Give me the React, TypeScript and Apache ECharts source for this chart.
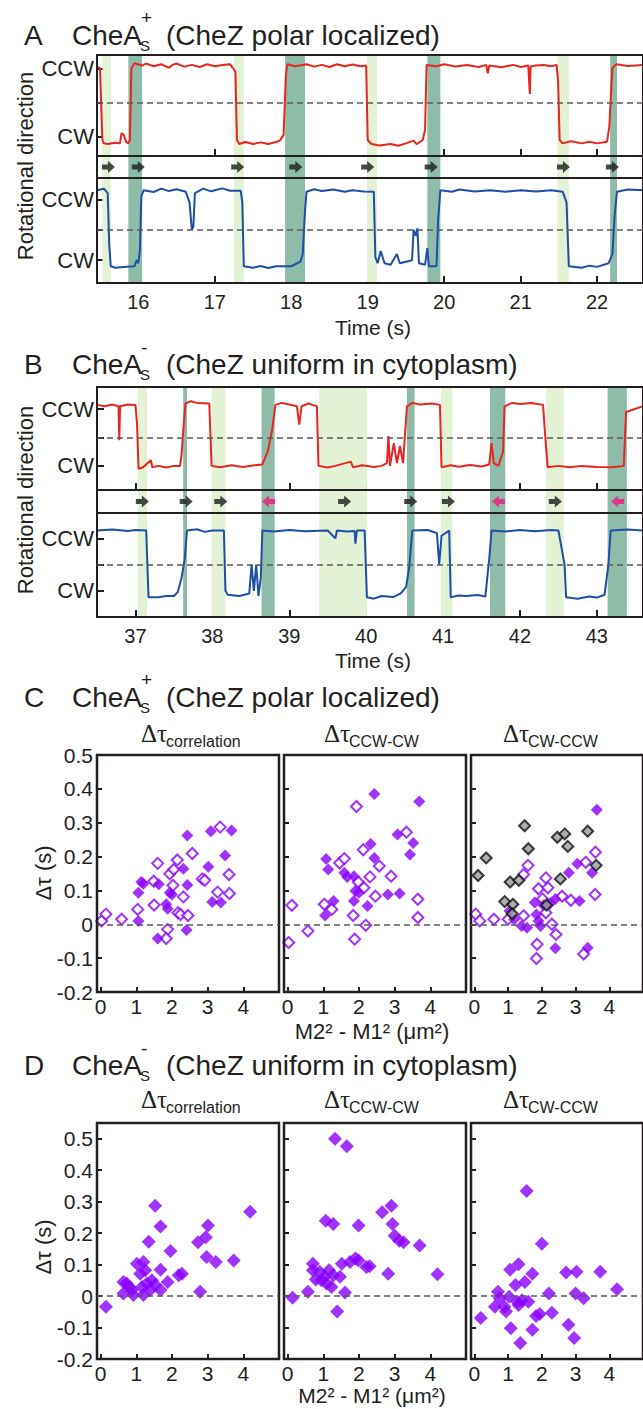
import React, { useEffect, useRef } from "react";
import * as echarts from "echarts";

const FONT = "'Liberation Sans', Arial, Helvetica, sans-serif";
const SERIF = "'Liberation Serif', 'Times New Roman', serif";
const INK = "#231f20";
const RED = "#e8251e";
const BLUE = "#1f4ea6";
const PURPLE = "#8a00ff";
const LIGHT = "#e3f1d5";
const DARK = "#8fbca8";
const MAGENTA = "#f0167f";

// ---------- Panel A (CheA_S+) ----------
const timeTicksA = [16, 17, 18, 19, 20, 21, 22];
const redTraceA = [
  [15.46, 1.05], [15.5, 1.0], [15.53, -1.1], [15.55, -1.2], [15.6, -1.22], [15.7, -1.18], [15.76, -1.2],
  [15.78, -0.9], [15.81, -0.95], [15.84, -1.15], [15.87, -1.2], [15.89, -1.1], [15.91, 1.0], [15.95, 1.15],
  [16.05, 1.08], [16.1, 1.14], [16.2, 1.06], [16.3, 1.12], [16.4, 1.02], [16.45, 1.1], [16.5, 1.14], [16.6, 1.05],
  [16.7, 1.1], [16.8, 1.04], [16.9, 1.12], [17.0, 1.06], [17.1, 1.1], [17.2, 1.12],
  [17.24, 1.0], [17.27, 0.9], [17.29, -1.1], [17.32, -1.22], [17.4, -1.16], [17.5, -1.22], [17.6, -1.17],
  [17.7, -1.22], [17.8, -1.16], [17.85, -1.12],
  [17.9, -0.95], [17.93, 0.8], [17.95, 1.12], [18.05, 1.06], [18.2, 1.12], [18.3, 1.05], [18.4, 1.1], [18.5, 1.04],
  [18.6, 1.12], [18.7, 1.06], [18.8, 1.11], [18.9, 1.06], [18.98, 1.08],
  [19.0, -1.1], [19.05, -1.22], [19.15, -1.26], [19.3, -1.22], [19.4, -1.27], [19.5, -1.2], [19.6, -1.12],
  [19.64, -1.22], [19.72, -1.1],
  [19.75, -0.8], [19.77, 1.1], [19.9, 1.06], [20.0, 1.12], [20.15, 1.05], [20.3, 1.1], [20.45, 1.04], [20.55, 1.1],
  [20.57, 0.85], [20.59, 1.08], [20.75, 1.03], [20.9, 1.1], [21.0, 1.04],
  [21.1, 1.08], [21.12, 0.25], [21.13, 1.05], [21.2, 1.08], [21.3, 1.1], [21.4, 1.06], [21.47, 1.1], [21.49, 0.6],
  [21.51, -1.1], [21.55, -1.2], [21.65, -1.14], [21.8, -1.2], [21.9, -1.15], [22.0, -1.2], [22.13, -1.15],
  [22.16, -0.7], [22.18, 0.2], [22.2, 1.0], [22.25, 1.12], [22.4, 1.07], [22.6, 1.1],
];
const blueTraceA = [
  [15.46, 1.3], [15.55, 1.35], [15.6, 1.2], [15.62, -0.5], [15.64, -1.2], [15.7, -1.25], [15.85, -1.22],
  [15.95, -1.2], [15.98, -1.0], [16.0, -1.1], [16.02, -0.7], [16.04, 1.1], [16.07, 1.3], [16.2, 1.24],
  [16.3, 1.35], [16.4, 1.27], [16.5, 1.33], [16.62, 1.25], [16.67, 0.9], [16.7, 0.0], [16.72, 0.1], [16.74, 1.2],
  [16.85, 1.35], [16.95, 1.26], [17.0, 1.3], [17.1, 1.36], [17.2, 1.28], [17.34, 1.28], [17.36, 0.9],
  [17.38, -1.2], [17.5, -1.25], [17.6, -1.19], [17.7, -1.26], [17.8, -1.2], [18.0, -1.2], [18.12, -1.05],
  [18.15, -0.8], [18.18, 0.6], [18.2, 1.25], [18.3, 1.33], [18.4, 1.27], [18.55, 1.32], [18.7, 1.25], [18.8, 1.3],
  [18.95, 1.26], [19.08, 1.25], [19.1, -0.9], [19.13, -1.1],
  [19.17, -0.7], [19.22, -1.1], [19.3, -1.15], [19.38, -0.8], [19.42, -1.1], [19.5, -1.05], [19.58, -1.0],
  [19.6, 0.0], [19.63, -0.2], [19.65, 0.05], [19.67, -1.1], [19.75, -1.15], [19.78, -0.6], [19.8, -1.2],
  [19.9, -1.2], [19.92, 0.3], [19.95, 1.3], [20.1, 1.25], [20.2, 1.32], [20.4, 1.26], [20.6, 1.3], [20.8, 1.25],
  [21.0, 1.3], [21.2, 1.26], [21.4, 1.3], [21.55, 1.25],
  [21.6, 0.9], [21.63, -1.2], [21.8, -1.25], [21.9, -1.18], [22.0, -1.22], [22.15, -1.1], [22.2, -0.8],
  [22.23, 0.5], [22.26, 1.25], [22.4, 1.32], [22.6, 1.3],
];
const lightBandsA = [[15.53, 15.64], [17.25, 17.38], [18.99, 19.12], [21.48, 21.63]];
const darkBandsA = [[15.87, 16.05], [17.92, 18.18], [19.78, 19.95], [22.17, 22.26]];
const arrowsRightA = [15.61, 16.0, 17.3, 18.06, 19.0, 19.83, 21.56, 22.2];
const arrowsLeftA: number[] = [];

// ---------- Panel B (CheA_S-) ----------
const timeTicksB = [37, 38, 39, 40, 41, 42, 43];
const redTraceB = [
  [36.5, 1.15], [36.6, 1.1], [36.7, 1.16], [36.78, 1.1], [36.79, -0.1], [36.8, 1.1], [36.9, 1.16], [37.0, 1.15],
  [37.02, 0.5], [37.04, -1.1], [37.1, -1.05], [37.2, -0.8], [37.22, -1.05], [37.3, -1.0], [37.4, -1.06],
  [37.5, -1.0], [37.58, -1.0], [37.6, -0.6], [37.62, 0.2],
  [37.65, 1.2], [37.72, 1.28], [37.8, 1.22], [37.96, 1.2], [37.99, -1.0], [38.1, -1.05], [38.25, -0.98],
  [38.4, -1.04], [38.55, -0.98], [38.65, -0.95],
  [38.72, -0.5], [38.78, 0.3], [38.82, 1.15], [38.9, 1.22], [39.0, 1.16], [39.1, 1.1], [39.13, 0.45], [39.16, 1.1],
  [39.25, 1.2], [39.3, 1.15], [39.36, 1.1], [39.38, -1.0], [39.5, -1.06], [39.6, -1.0], [39.8, -0.85],
  [39.83, -1.05], [39.95, -0.98], [40.1, -1.04], [40.2, -1.0], [40.27, -0.9],
  [40.29, 0.05], [40.31, -1.0], [40.36, -0.2], [40.4, -0.9], [40.44, -0.3], [40.48, -0.9], [40.53, 1.1],
  [40.6, 1.22], [40.7, 1.16], [40.85, 1.2], [40.96, 1.15], [40.98, -1.05], [41.1, -0.98], [41.2, -1.03],
  [41.35, -0.97], [41.5, -1.02], [41.6, -0.95], [41.63, -0.2],
  [41.66, -0.9], [41.72, -1.0], [41.78, -0.5], [41.8, 1.1], [41.9, 1.22], [42.0, 1.18], [42.15, 1.22],
  [42.3, 1.15], [42.33, 0.0], [42.36, -1.05], [42.5, -1.0], [42.65, -1.05], [42.8, -1.0], [43.0, -1.04],
  [43.2, -1.05], [43.35, -1.0], [43.38, 0.9], [43.6, 1.1],
];
const blueTraceB = [
  [36.5, 1.3], [36.7, 1.34], [36.9, 1.28], [37.0, 1.32], [37.14, 1.3], [37.17, -1.25], [37.3, -1.25],
  [37.4, -1.2], [37.5, -1.2], [37.55, -1.05],
  [37.6, -0.5], [37.64, 0.2], [37.67, 1.3], [37.8, 1.35], [37.9, 1.25], [38.0, 1.3], [38.15, 1.3], [38.17, -1.0],
  [38.2, -1.15], [38.35, -1.2], [38.48, -1.1], [38.51, 0.0], [38.54, -1.0], [38.57, 0.0], [38.6, -1.2],
  [38.63, -0.5], [38.65, 1.3], [38.8, 1.26], [39.0, 1.32], [39.2, 1.27], [39.5, 1.3], [39.6, 1.0], [39.62, 1.3],
  [39.75, 1.26], [39.85, 1.28], [39.86, 0.8], [39.88, 1.3],
  [39.98, 1.3], [40.01, -1.25], [40.1, -1.3], [40.2, -1.2], [40.35, -1.24], [40.45, -1.1], [40.52, -0.85],
  [40.56, -0.1], [40.6, 1.3], [40.8, 1.32], [40.92, 1.2], [40.95, 0.0], [40.98, 1.1], [41.08, 1.3], [41.1, -1.25],
  [41.2, -1.18], [41.3, -1.2], [41.45, -1.16], [41.55, -1.22], [41.6, 0.2], [41.63, 1.3], [41.8, 1.26],
  [42.0, 1.32], [42.2, 1.27], [42.4, 1.32], [42.5, 1.3], [42.58, 0.0], [42.6, -1.25], [42.75, -1.3],
  [42.9, -1.22], [43.0, -1.26], [43.1, -1.15], [43.15, 0.0], [43.18, 1.3], [43.4, 1.34], [43.6, 1.3],
];
const lightBandsB = [[37.03, 37.15], [37.99, 38.17], [39.39, 40.01], [40.97, 41.12], [42.34, 42.57]];
const darkBandsB = [[37.62, 37.67], [38.64, 38.81], [40.53, 40.63], [41.61, 41.81], [43.14, 43.39]];
const arrowsRightB = [37.09, 37.66, 38.11, 39.72, 40.58, 41.07, 42.46];
const arrowsLeftB = [38.73, 41.72, 43.27];

// ---------- Panel C scatter (CheA_S+) ----------
const xTicksScatter = [0, 1, 2, 3, 4];
const yTicksScatter = [-0.2, -0.1, 0, 0.1, 0.2, 0.3, 0.4, 0.5];
const cCorrFilled = [
  [1.06, 0.093], [1.2, 0.12], [1.14, 0.125], [1.06, 0.01], [1.6, -0.042], [1.63, 0.118], [1.84, 0.059],
  [1.88, 0.046], [1.94, 0.093], [2.0, 0.088], [2.32, 0.164], [2.43, 0.262], [2.43, 0.116], [2.41, -0.017],
  [3.02, 0.17], [3.09, 0.275], [3.13, 0.066], [3.37, 0.064], [3.49, 0.203], [3.67, 0.277],
];
const cCorrOpen = [
  [0.03, 0.01], [0.15, 0.03], [0.59, 0.015], [1.04, 0.044], [1.6, 0.18], [1.49, 0.127], [1.5, 0.057],
  [1.94, 0.149], [1.88, -0.015], [1.84, -0.042], [2.15, 0.19], [2.05, 0.162], [2.03, 0.115], [2.17, 0.034],
  [2.24, 0.029], [2.32, 0.081], [2.45, 0.026], [2.57, 0.209], [2.85, 0.134], [2.92, 0.13], [3.28, 0.095],
  [3.35, 0.287], [3.6, 0.147], [3.61, 0.091],
];
const cCcwCwFilled = [
  [1.08, 0.193], [1.14, 0.162], [1.59, 0.152], [1.67, 0.14], [1.86, 0.142], [1.9, 0.098], [2.0, 0.093],
  [1.86, 0.069], [1.29, 0.069], [1.05, 0.026], [2.33, 0.237], [2.43, 0.196], [2.43, 0.385], [2.24, 0.054],
  [2.81, 0.088], [3.08, 0.265], [3.14, 0.091], [3.43, 0.206], [3.52, 0.24], [3.69, 0.363],
];
const cCcwCwOpen = [
  [0.12, 0.056], [0.03, -0.054], [0.57, -0.02], [1.03, 0.059], [1.24, 0.044], [1.46, 0.181], [1.59, 0.194],
  [1.84, 0.026], [1.88, -0.044], [1.98, 0.125], [2.12, 0.22], [2.14, 0.108], [2.19, -0.003], [2.31, 0.14],
  [1.93, 0.348], [2.46, 0.083], [2.57, 0.172], [2.9, 0.142], [3.33, 0.272], [3.65, 0.074], [3.65, 0.02],
];
const cCwCcwFilled = [
  [1.04, 0.039], [1.18, 0.015], [1.4, -0.005], [1.56, -0.01], [1.79, 0.064], [1.84, 0.029], [1.9, 0.01],
  [1.96, -0.005], [2.05, 0.056], [2.25, 0.062], [2.4, 0.075], [2.4, -0.071], [2.8, 0.152], [3.05, 0.179],
  [3.12, 0.069], [3.36, -0.069], [3.49, 0.152], [3.63, 0.338],
];
const cCwCcwOpen = [
  [0.04, 0.03], [0.16, 0.01], [0.58, 0.015], [1.0, 0.015], [1.46, 0.147], [1.59, 0.174], [1.46, 0.025],
  [1.9, 0.105], [2.12, 0.137], [2.18, 0.108], [2.02, 0.075], [2.12, 0.034], [2.3, 0.0], [2.42, -0.03],
  [1.86, -0.059], [1.84, -0.101], [2.6, 0.083], [2.86, 0.071], [3.3, 0.183], [3.24, -0.088], [3.59, 0.213],
  [3.58, 0.088],
];
const cCwCcwGray = [
  [0.11, 0.144], [0.35, 0.196], [0.9, 0.067], [1.06, 0.125], [1.32, 0.13], [1.14, 0.059], [1.12, 0.031],
  [1.49, 0.291], [1.6, 0.223], [2.14, 0.057], [2.46, 0.257], [2.68, 0.267], [2.77, 0.23], [2.55, 0.134],
  [3.36, 0.275], [3.61, 0.174],
];

// ---------- Panel D scatter (CheA_S-) ----------
const dCorr = [
  [0.15, -0.034], [0.64, 0.045], [0.73, 0.04], [0.64, 0.008], [0.92, 0.003], [1.02, 0.103], [1.2, 0.108],
  [1.11, 0.071], [1.25, 0.082], [1.16, 0.029], [1.3, 0.04], [1.44, 0.05], [1.2, 0.003], [1.53, 0.287],
  [1.68, 0.221], [1.35, 0.173], [1.68, 0.084], [1.68, 0.019], [1.53, 0.035], [1.88, 0.045], [1.96, 0.143],
  [2.19, 0.066], [2.28, 0.071], [2.73, 0.171], [2.95, 0.187], [3.01, 0.224], [2.79, 0.014], [2.97, 0.124],
  [3.23, 0.108], [3.73, 0.113], [4.19, 0.268], [0.81, 0.029], [0.88, 0.019], [1.39, 0.019],
];
const dCcwCw = [
  [0.14, -0.005], [0.57, 0.014], [0.71, 0.103], [0.71, 0.082], [0.9, 0.077], [1.04, 0.061], [1.16, 0.082],
  [1.09, 0.04], [1.23, 0.029], [1.28, 0.066], [1.47, 0.061], [1.39, -0.049], [1.61, 0.011], [1.52, 0.103],
  [1.75, 0.108], [1.9, 0.119], [1.99, 0.113], [1.07, 0.239], [1.28, 0.229], [1.33, 0.5], [1.66, 0.476],
  [1.99, 0.224], [2.21, 0.092], [2.3, 0.095], [2.65, 0.266], [2.91, 0.287], [2.94, 0.229], [3.0, 0.192],
  [3.13, 0.176], [3.25, 0.171], [3.7, 0.161], [2.82, 0.071], [4.2, 0.069], [0.79, 0.053], [0.95, 0.05],
];
const dCwCcw = [
  [0.19, -0.07], [0.61, -0.034], [0.7, 0.014], [0.75, -0.007], [0.89, -0.034], [0.94, -0.049], [1.06, 0.084],
  [1.08, -0.102], [1.22, 0.035], [1.27, -0.018], [1.31, 0.101], [1.36, -0.149], [1.41, -0.013], [1.5, 0.045],
  [1.55, 0.334], [1.6, -0.018], [1.72, 0.071], [1.72, -0.107], [1.83, -0.063], [1.94, -0.057], [2.0, 0.166],
  [2.21, 0.008], [2.3, -0.053], [2.72, 0.075], [2.79, -0.091], [2.96, -0.133], [3.0, 0.008], [3.03, 0.077],
  [3.24, -0.007], [3.73, 0.077], [4.23, 0.022], [1.03, -0.002], [1.31, -0.028],
];

const ARROW = "path://M0,3.4 L6,3.4 L6,0 L13,6 L6,12 L6,8.6 L0,8.6 Z";

function buildOption() {
  const grid: any[] = [];
  const xAxis: any[] = [];
  const yAxis: any[] = [];
  const series: any[] = [];

  const addGrid = (g: any) => {
    grid.push({ show: true, borderColor: INK, borderWidth: 2, backgroundColor: "transparent", z: 4, ...g });
    return grid.length - 1;
  };

  const zeroLine = {
    silent: true,
    symbol: "none",
    label: { show: false },
    lineStyle: { type: [6, 4], color: "#5a5a5a", width: 1.5 },
    data: [{ yAxis: 0 }],
  };

  const bandData = (light: number[][], dark: number[][]) => [
    ...light.map(([a, b]) => [{ xAxis: a, itemStyle: { color: LIGHT } }, { xAxis: b }]),
    ...dark.map(([a, b]) => [{ xAxis: a, itemStyle: { color: DARK } }, { xAxis: b }]),
  ];

  const timeAxis = (gi: number, min: number, max: number, ticks: number[], ticksOn: boolean, labels: boolean) => ({
    type: "value",
    gridIndex: gi,
    min,
    max,
    axisLine: { show: false, onZero: false },
    splitLine: { show: false },
    axisTick: {
      show: ticksOn,
      inside: true,
      length: 7,
      customValues: ticks,
      lineStyle: { color: INK, width: 2 },
    },
    axisLabel: {
      show: labels,
      customValues: ticks,
      color: INK,
      fontFamily: FONT,
      fontSize: 20,
      margin: 9,
      formatter: (v: number) => String(Math.round(v)),
    },
  });

  const dirAxis = (gi: number, min: number, max: number) => ({
    type: "value",
    gridIndex: gi,
    min,
    max,
    axisLine: { show: false, onZero: false },
    splitLine: { show: false },
    axisTick: { show: true, inside: true, length: 7, customValues: [-1, 0, 1], lineStyle: { color: INK, width: 2 } },
    axisLabel: {
      show: true,
      customValues: [-1, 1],
      color: INK,
      fontFamily: FONT,
      fontSize: 22,
      margin: 3,
      formatter: (v: number) => (v > 0.5 ? "CCW" : v < -0.5 ? "CW" : ""),
    },
  });

  const tracePanel = (p: any) => {
    const bands = bandData(p.light, p.dark);
    const g1 = addGrid({ left: 97, top: p.top1, width: 562, height: p.h1 });
    const g2 = addGrid({ left: 97, top: p.top2, width: 562, height: p.h2 });
    const g3 = addGrid({ left: 97, top: p.top3, width: 562, height: p.h3 });
    xAxis.push(timeAxis(g1, p.xmin, p.xmax, p.ticks, true, false));
    xAxis.push(timeAxis(g2, p.xmin, p.xmax, p.ticks, false, false));
    xAxis.push(timeAxis(g3, p.xmin, p.xmax, p.ticks, true, true));
    yAxis.push(dirAxis(g1, p.y1[0], p.y1[1]));
    yAxis.push({ type: "value", gridIndex: g2, min: 0, max: 1, show: false, axisLine: { onZero: false } });
    yAxis.push(dirAxis(g3, p.y3[0], p.y3[1]));
    const xi = xAxis.length - 3;
    const yi = yAxis.length - 3;
    series.push({
      type: "line",
      xAxisIndex: xi,
      yAxisIndex: yi,
      data: p.trace1,
      showSymbol: false,
      symbol: "none",
      lineStyle: { color: RED, width: 2 },
      z: 3,
      markArea: { silent: true, data: bands },
      markLine: zeroLine,
    });
    series.push({
      type: "scatter",
      xAxisIndex: xi + 1,
      yAxisIndex: yi + 1,
      data: p.right.map((t: number) => [t, 0.5]),
      symbol: ARROW,
      symbolSize: [13, 12],
      itemStyle: { color: "#1a1a1a" },
      z: 3,
      markArea: { silent: true, data: bands },
    });
    if (p.left.length) {
      series.push({
        type: "scatter",
        xAxisIndex: xi + 1,
        yAxisIndex: yi + 1,
        data: p.left.map((t: number) => [t, 0.5]),
        symbol: ARROW,
        symbolRotate: 180,
        symbolSize: [13, 12],
        itemStyle: { color: MAGENTA },
        z: 3,
      });
    }
    series.push({
      type: "line",
      xAxisIndex: xi + 2,
      yAxisIndex: yi + 2,
      data: p.trace3,
      showSymbol: false,
      symbol: "none",
      lineStyle: { color: BLUE, width: 2 },
      z: 3,
      markArea: { silent: true, data: bands },
      markLine: zeroLine,
    });
  };

  tracePanel({
    top1: 55, h1: 101, top2: 156, h2: 22, top3: 178, h3: 105,
    xmin: 15.46, xmax: 22.6, ticks: timeTicksA,
    y1: [-1.57, 1.39], y3: [-1.75, 1.7],
    trace1: redTraceA, trace3: blueTraceA,
    light: lightBandsA, dark: darkBandsA, right: arrowsRightA, left: arrowsLeftA,
  });
  tracePanel({
    top1: 387, h1: 103, top2: 490, h2: 23, top3: 513, h3: 104,
    xmin: 36.5, xmax: 43.6, ticks: timeTicksB,
    y1: [-1.85, 1.78], y3: [-2.0, 1.97],
    trace1: redTraceB, trace3: blueTraceB,
    light: lightBandsB, dark: darkBandsB, right: arrowsRightB, left: arrowsLeftB,
  });

  const scatterBox = (left: number, top: number, height: number, ymax: number, showY: boolean, sets: any[]) => {
    const gi = addGrid({ left, top, width: 182, height, borderWidth: 2.5 });
    xAxis.push({
      type: "value", gridIndex: gi, min: -0.1, max: 5.0,
      axisLine: { show: false, onZero: false }, splitLine: { show: false },
      axisTick: { show: true, inside: true, length: 5, customValues: xTicksScatter, lineStyle: { color: INK, width: 2 } },
      axisLabel: { show: true, customValues: xTicksScatter, color: INK, fontFamily: FONT, fontSize: 21, margin: 4 },
    });
    yAxis.push({
      type: "value", gridIndex: gi, min: -0.2, max: ymax,
      axisLine: { show: false, onZero: false }, splitLine: { show: false },
      axisTick: { show: true, inside: true, length: 5, customValues: yTicksScatter, lineStyle: { color: INK, width: 2 } },
      axisLabel: {
        show: showY, customValues: yTicksScatter, color: INK, fontFamily: FONT, fontSize: 21, margin: 4,
        formatter: (v: number) => {
          const r = Math.round(v * 10) / 10;
          return r === 0 ? "0" : String(r);
        },
      },
    });
    const xi = xAxis.length - 1;
    const yi = yAxis.length - 1;
    sets.forEach((s, k) => {
      series.push({
        type: "scatter",
        xAxisIndex: xi,
        yAxisIndex: yi,
        data: s.data,
        symbol: "diamond",
        symbolSize: s.size,
        itemStyle: s.style,
        z: 3 + k,
        ...(k === 0 ? { markLine: zeroLine } : {}),
      });
    });
  };

  const filled = (data: number[][], size = 12) => ({ data, size, style: { color: PURPLE } });
  const open = (data: number[][]) => ({ data, size: 11, style: { color: "#ffffff", borderColor: PURPLE, borderWidth: 2 } });
  const gray = (data: number[][]) => ({ data, size: 11, style: { color: "#9b9b9b", borderColor: "#111", borderWidth: 2 } });

  scatterBox(97, 755, 237, 0.5, true, [open(cCorrOpen), filled(cCorrFilled)]);
  scatterBox(284, 755, 237, 0.5, false, [open(cCcwCwOpen), filled(cCcwCwFilled)]);
  scatterBox(471, 755, 237, 0.5, false, [open(cCwCcwOpen), filled(cCwCcwFilled), gray(cCwCcwGray)]);
  scatterBox(97, 1123, 236, 0.55, true, [filled(dCorr, 14)]);
  scatterBox(284, 1123, 236, 0.55, false, [filled(dCcwCw, 14)]);
  scatterBox(471, 1123, 236, 0.55, false, [filled(dCwCcw, 14)]);

  const txt = (text: string, x: number, y: number, o: any = {}) => ({
    type: "text",
    x,
    y,
    rotation: o.rotation || 0,
    z: 10,
    style: {
      text,
      fill: INK,
      font: `${o.size || 20}px ${o.family || FONT}`,
      align: o.align || "left",
      verticalAlign: "middle",
    },
  });

  const heading = (letter: string, sign: string, rest: string, cy: number) => [
    txt(letter, 24, cy, { size: 28 }),
    txt("CheA", 72, cy, { size: 28 }),
    txt("S", 140, cy + 10, { size: 15 }),
    txt(sign, 141, cy + (sign === "+" ? -18 : -17), { size: 19 }),
    txt(rest, 166, cy, { size: 28 }),
  ];

  const subtitles = (cy: number) => [
    txt("Δτ", 141, cy, { size: 25, family: SERIF }),
    txt("correlation", 166, cy + 8, { size: 16 }),
    txt("Δτ", 324, cy, { size: 25, family: SERIF }),
    txt("CCW-CW", 349, cy + 8, { size: 16 }),
    txt("Δτ", 503, cy, { size: 25, family: SERIF }),
    txt("CW-CCW", 528, cy + 8, { size: 16 }),
  ];

  const graphic = [
    ...heading("A", "+", "(CheZ polar localized)", 35),
    txt("Rotational direction", 25, 166, { size: 22, align: "center", rotation: Math.PI / 2 }),
    txt("Time (s)", 373, 327, { size: 21, align: "center" }),
    ...heading("B", "-", "(CheZ uniform in cytoplasm)", 364),
    txt("Rotational direction", 25, 500, { size: 22, align: "center", rotation: Math.PI / 2 }),
    txt("Time (s)", 373, 660, { size: 21, align: "center" }),
    ...heading("C", "+", "(CheZ polar localized)", 697),
    ...subtitles(733),
    txt("Δτ (s)", 43, 873, { size: 22, align: "center", rotation: Math.PI / 2 }),
    txt("M2² - M1² (μm²)", 372, 1031, { size: 22, align: "center" }),
    ...heading("D", "-", "(CheZ uniform in cytoplasm)", 1065),
    ...subtitles(1099),
    txt("Δτ (s)", 43, 1247, { size: 22, align: "center", rotation: Math.PI / 2 }),
    txt("M2² - M1² (μm²)", 372, 1395, { size: 21, align: "center" }),
  ];

  return {
    animation: false,
    backgroundColor: "#ffffff",
    textStyle: { fontFamily: FONT },
    grid,
    xAxis,
    yAxis,
    series,
    graphic,
  };
}

export default function App() {
  const ref = useRef<HTMLDivElement>(null);
  useEffect(() => {
    if (!ref.current) return;
    const chart = echarts.init(ref.current, undefined, { renderer: "svg" });
    chart.setOption(buildOption() as any);
    return () => chart.dispose();
  }, []);
  return (
    <div
      ref={ref}
      style={{ position: "absolute", left: 0, top: 0, width: 643, height: 1409, background: "#fff" }}
    />
  );
}
